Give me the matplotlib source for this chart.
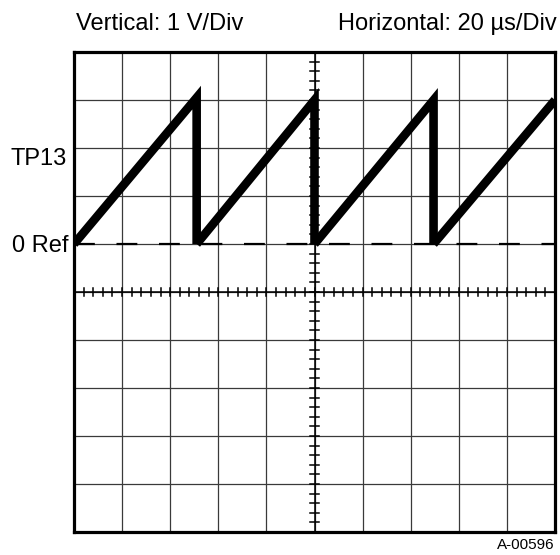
import numpy as np
import matplotlib
matplotlib.use('Agg')
import matplotlib.pyplot as plt

plt.rcParams['font.family'] = ['Liberation Sans', 'DejaVu Sans']
plt.rcParams['lines.scale_dashes'] = False

# sawtooth trace at TP13 (time in us, volts above 0 Ref)
t_us = [0, 51, 51, 100, 100, 149.5, 149.5, 200]
volts = [0, 3.05, 0, 3.0, 0, 3.0, 0, 3.0]

us_per_div = 20
v_per_div = 1
n_div = 10
screen_center_v = -1          # 0 Ref sits one division above screen centre

fig = plt.figure(figsize=(5.6, 5.55), dpi=100)
ax = fig.add_axes([74/560, 23/555, 481/560, 480/555])

xmax = us_per_div * n_div
ax.set_xlim(0, xmax)
ax.set_ylim(screen_center_v - 5*v_per_div, screen_center_v + 5*v_per_div)

# graticule
for i in range(1, n_div):
    ax.axvline(i*us_per_div, color='#3a3a3a', lw=0.9, zorder=1)
    ax.axhline(screen_center_v - 5 + i*v_per_div, color='#3a3a3a', lw=0.9, zorder=1)

# centre cross with minor ticks (5 per division)
ax.axvline(xmax/2, color='black', lw=1.1, zorder=2)
ax.axhline(screen_center_v, color='black', lw=1.1, zorder=2)
dx = 1.7       # half tick length in us
dy = 0.085     # half tick length in V
for t in np.arange(0, xmax + 0.1, us_per_div/5):
    ax.plot([t, t], [screen_center_v - dy, screen_center_v + dy], color='black', lw=1.1, zorder=2)
for v in np.arange(screen_center_v - 5, screen_center_v + 5.01, v_per_div/5):
    ax.plot([xmax/2 - dx, xmax/2 + dx], [v, v], color='black', lw=1.1, zorder=2)

# 0 Ref dashed line
ax.axhline(0, color='black', lw=1.6, dashes=(15, 15.6), zorder=3)

# trace, one tooth (ramp + drop) at a time so only the peaks get mitred
for i in range(0, len(t_us) - 1, 2):
    ax.plot(t_us[i:i+3], volts[i:i+3], color='black', lw=6.2,
            solid_joinstyle='miter', solid_capstyle='butt', zorder=4)

ax.set_xticks([])
ax.set_yticks([])
for s in ax.spines.values():
    s.set_linewidth(2.3)
    s.set_color('black')

fig.text(76/560, 1 - 30/555, 'Vertical: 1 V/Div', fontsize=17, ha='left', va='baseline')
fig.text(557/560, 1 - 30/555, 'Horizontal: 20 µs/Div', fontsize=17, ha='right', va='baseline')
fig.text(67/560, 1 - 165/555, 'TP13', fontsize=17, ha='right', va='baseline')
fig.text(68/560, 1 - 252/555, '0 Ref', fontsize=17, ha='right', va='baseline')
fig.text(555/560, 1 - 549/555, 'A-00596', fontsize=11, ha='right', va='baseline')

fig.savefig('out.png', dpi=100)
